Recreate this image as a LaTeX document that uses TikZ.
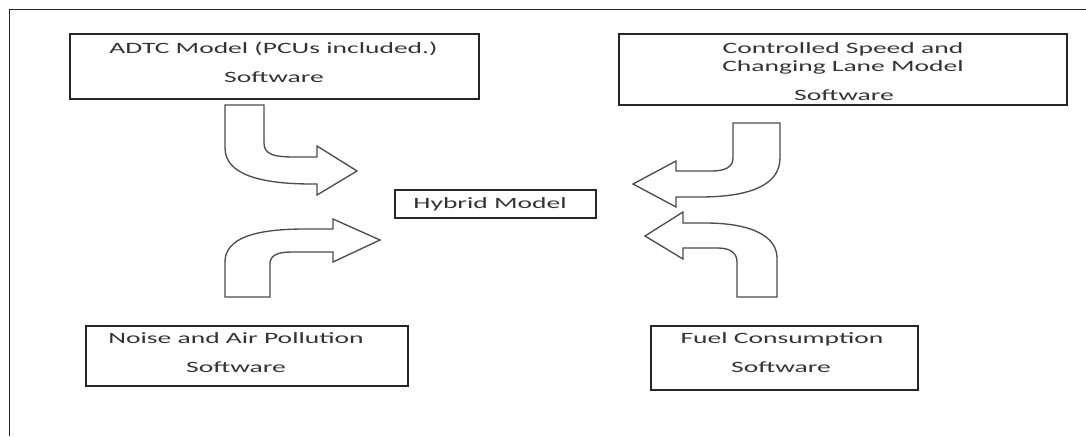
\documentclass[tikz,border=0pt]{standalone}
\usepackage{fontspec}
\newfontfamily\boxfont[FakeStretch=1.75]{Carlito}

\begin{document}
\begin{tikzpicture}[
x=0.75pt, y=-0.75pt,
box/.style={
	draw=black!85, line width=0.8pt,
	rectangle, inner sep=0pt
},
txt/.style={
	anchor=base, inner sep=0pt, text=black!80,
	font=\boxfont\fontsize{11.8}{14}\selectfont
},
bigarrow/.style={draw=black!70, line width=1pt, fill=white},
frame/.style={draw=black!85, line width=0.8pt}
]
\useasboundingbox (0,0) rectangle (1086,436);
\draw[frame] (1086,9.5) -| (9.5,436);

\node[box, minimum width=306.75pt, minimum height=48.75pt] (adtc) at (274.5,66.5) {};
\node[box, minimum width=336pt, minimum height=53.25pt] (csm) at (843,69.5) {};
\node[box, minimum width=150.75pt, minimum height=21pt] (hyb) at (495.5,204) {};
\node[box, minimum width=241.5pt, minimum height=45pt] (nap) at (247,356) {};
\node[box, minimum width=200.25pt, minimum height=48pt] (fuel) at (784.5,358) {};

\node[txt] (adtc1) at (273.5,53) {ADTC Model (PCUs included.)};
\node[txt] (adtc2) at (274,82) {Software};
\node[txt] (csm1) at (843,53.5) {Controlled Speed and};
\node[txt] (csm2) at (843,71.5) {Changing Lane Model};
\node[txt] (csm3) at (844,100) {Software};
\node[txt] (hyb1) at (490,208.5) {Hybrid Model};
\node[txt] (nap1) at (236,343.5) {Noise and Air Pollution};
\node[txt] (nap2) at (236,372) {Software};
\node[txt] (fuel1) at (782,343.5) {Fuel Consumption};
\node[txt] (fuel2) at (781,372) {Software};

\draw[bigarrow] (225,105) -- (264,105) -- (264,143)
	.. controls (264,155) and (275,157) .. (295,157) -- (317,157) -- (317,146)
	-- (357,171) -- (317,195) -- (317,184) -- (312,184)
	.. controls (262,184) and (225,175) .. (225,148) -- cycle;
\draw[bigarrow] (225,297) -- (270,297) -- (270,264)
	.. controls (270,255) and (278,252) .. (292,252) -- (333,252) -- (333,262)
	-- (380,240) -- (333,219) -- (333,229) -- (305,229)
	.. controls (255,229) and (225,238) .. (225,262) -- cycle;
\draw[bigarrow] (780,123) -- (733,123) -- (733,158)
	.. controls (733,167) and (725,171) .. (712,171) -- (676,171) -- (676,161)
	-- (633,184) -- (676,207) -- (676,197) -- (700,197)
	.. controls (750,197) and (780,185) .. (780,158) -- cycle;
\draw[bigarrow] (777,297) -- (737,297) -- (737,262)
	.. controls (737,253) and (730,248) .. (718,248) -- (683,248) -- (683,259)
	-- (645,236) -- (683,212) -- (683,223) -- (705,223)
	.. controls (755,223) and (777,238) .. (777,258) -- cycle;
\end{tikzpicture}
\end{document}
